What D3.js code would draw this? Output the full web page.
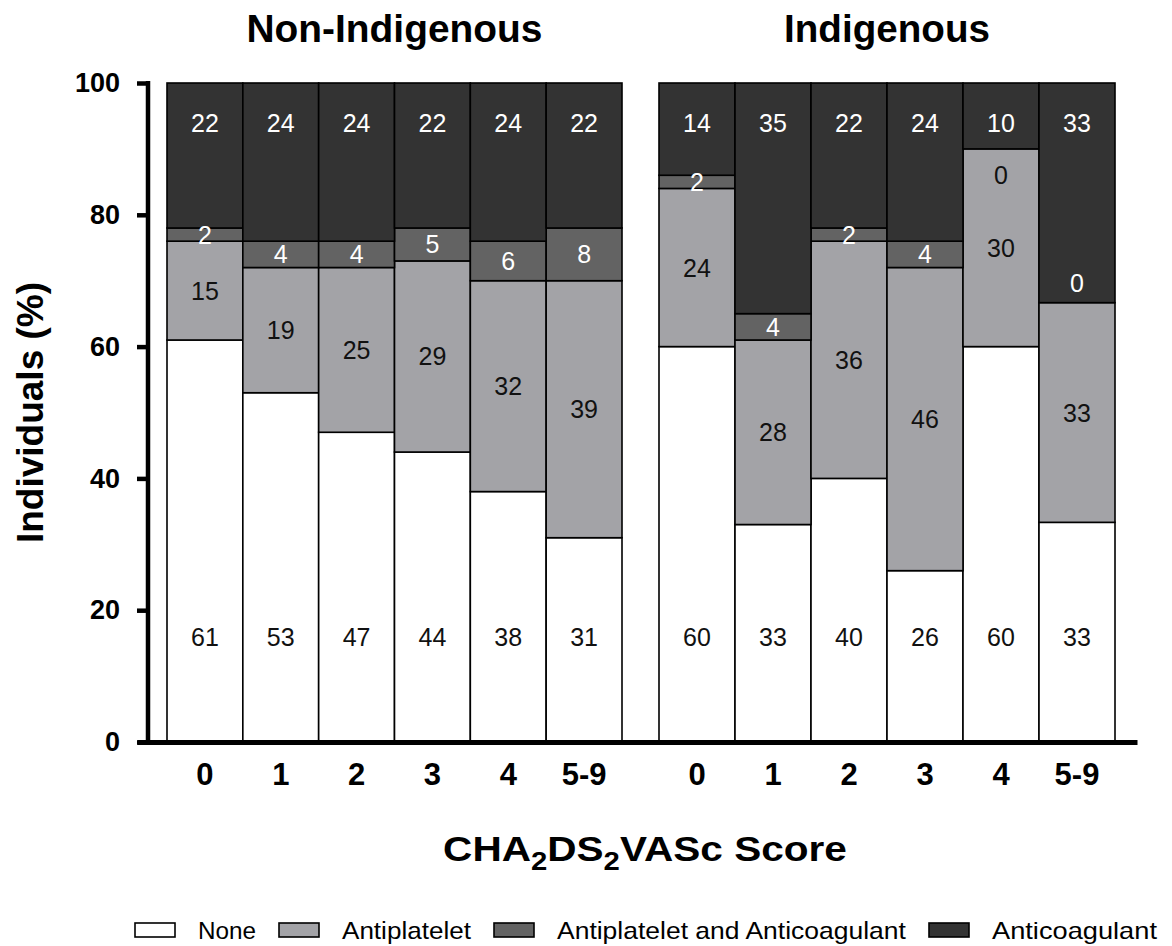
<!DOCTYPE html>
<html><head><meta charset="utf-8">
<script src="https://cdn.jsdelivr.net/npm/d3@7"></script>
<style>
html,body{margin:0;padding:0;background:#fff;}
svg{display:block;font-family:"Liberation Sans",Arial,Helvetica,sans-serif;}
</style></head>
<body>
<svg id="chart" width="1172" height="946"></svg>
<script>
// ---------- data ----------
const panels = ["Non-Indigenous", "Indigenous"];
const scores = ["0", "1", "2", "3", "4", "5-9"];
const seriesNames = ["None", "Antiplatelet", "Antiplatelet and Anticoagulant", "Anticoagulant"];

const nonIndNone        = [61, 53, 47, 44, 38, 31];
const nonIndAntiplatelet= [15, 19, 25, 29, 32, 39];
const nonIndBoth        = [2, 4, 4, 5, 6, 8];
const nonIndAnticoag    = [22, 24, 24, 22, 24, 22];

const indNone           = [60, 33, 40, 26, 60, 33];
const indAntiplatelet   = [24, 28, 36, 46, 30, 33];
const indBoth           = [2, 4, 2, 4, 0, 0];
const indAnticoag       = [14, 35, 22, 24, 10, 33];

const yTicks = [0, 20, 40, 60, 80, 100];
const yTitle = "Individuals (%)";

// ---------- style ----------
const colors = {"None": "#ffffff", "Antiplatelet": "#a3a3a7",
  "Antiplatelet and Anticoagulant": "#636363", "Anticoagulant": "#333333"};
const labelColors = {"None": "#111", "Antiplatelet": "#111",
  "Antiplatelet and Anticoagulant": "#fff", "Anticoagulant": "#fff"};

const svg = d3.select("#chart");
const y = d3.scaleLinear().domain([0, 100]).range([742, 83]);

function fitX(sel, w, cx) {
  const n = sel.node();
  const bw = n.getComputedTextLength();
  const sx = w / bw;
  sel.attr("transform", `translate(${cx},0) scale(${sx},1) translate(${-cx},0)`);
}

const panelData = [
  {name: panels[0], range: [167, 622], vals: [nonIndNone, nonIndAntiplatelet, nonIndBoth, nonIndAnticoag]},
  {name: panels[1], range: [659, 1115], vals: [indNone, indAntiplatelet, indBoth, indAnticoag]}
];
// label shifts for zero-height segments (value units)
const zeroShift = {"Indigenous|4": -4, "Indigenous|5-9": 3};

const stack = d3.stack().keys(seriesNames).offset(d3.stackOffsetExpand);

panelData.forEach(p => {
  const x = d3.scaleBand().domain(scores).range(p.range).padding(0);
  const rows = scores.map((s, i) => {
    const r = {score: s};
    seriesNames.forEach((k, j) => r[k] = p.vals[j][i]);
    return r;
  });
  const layers = stack(rows);
  const g = svg.append("g");
  layers.forEach(layer => {
    const key = layer.key;
    g.selectAll(null).data(layer).join("rect")
      .attr("x", d => x(d.data.score))
      .attr("width", x.bandwidth())
      .attr("y", d => y(d[1] * 100))
      .attr("height", d => y(d[0] * 100) - y(d[1] * 100))
      .attr("fill", colors[key])
      .attr("stroke", "#000")
      .attr("stroke-width", 1.6);
  });
  // labels
  layers.forEach(layer => {
    const key = layer.key;
    layer.forEach(d => {
      const v = d.data[key];
      let yv, col = labelColors[key];
      if (key === "Anticoagulant") yv = 94;
      else if (key === "None") yv = 16;
      else yv = (d[0] + d[1]) * 50;
      if (v === 0) {
        const sh = zeroShift[p.name + "|" + d.data.score] || 0;
        yv = d[1] * 100 + sh;
        col = sh < 0 ? labelColors["Antiplatelet"] : labelColors["Anticoagulant"];
      }
      const cx = x(d.data.score) + x.bandwidth() / 2;
      g.append("text")
        .attr("x", cx).attr("y", y(yv))
        .attr("text-anchor", "middle").attr("dominant-baseline", "central")
        .attr("font-size", 25).attr("fill", col).text(v);
    });
  });
  // x tick labels
  const ax = svg.append("g").attr("transform", `translate(0,${y(0)})`)
    .call(d3.axisBottom(x).tickSize(0).tickPadding(21));
  ax.select(".domain").remove();
  ax.selectAll("text").attr("font-size", 31).attr("font-weight", "bold")
    .attr("fill", "#000").attr("font-family", "'Liberation Sans',Arial,sans-serif");
  // panel title
  const cx = (p.range[0] + p.range[1]) / 2;
  const tt = svg.append("text").attr("x", cx).attr("y", 42)
    .attr("text-anchor", "middle").attr("font-size", 38).attr("font-weight", "bold")
    .text(p.name);
  fitX(tt, p.name === "Non-Indigenous" ? 296 : 206, cx);
});

// y axis
const yAxis = svg.append("g").attr("transform", "translate(148,0)")
  .call(d3.axisLeft(y).tickValues(yTicks).tickSize(11).tickPadding(17).tickSizeOuter(0));
yAxis.select(".domain").attr("stroke", "#000").attr("stroke-width", 4.5)
  .attr("d", `M0,${y(100) - 2}V${y(0) + 2}`);
yAxis.selectAll(".tick line").attr("stroke", "#000").attr("stroke-width", 4.5);
yAxis.selectAll("text").attr("font-size", 27).attr("font-weight", "bold").attr("fill", "#000")
  .attr("font-family", "'Liberation Sans',Arial,sans-serif");

// x axis baseline
const xBase = d3.scaleLinear().domain([0, 1]).range([137, 1137]);
const xAxisG = svg.append("g").attr("transform", `translate(0,${y(0)})`)
  .call(d3.axisBottom(xBase).tickValues([]).tickSizeOuter(0));
xAxisG.select(".domain").attr("stroke", "#000").attr("stroke-width", 5);

// y title
svg.append("text")
  .attr("transform", `translate(43,${(y(0) + y(100)) / 2}) rotate(-90)`)
  .attr("text-anchor", "middle").attr("font-size", 37).attr("font-weight", "bold")
  .text(yTitle);

// x title with subscripts
const xtCx = 645;
const xt = svg.append("text").attr("x", xtCx).attr("y", 861)
  .attr("text-anchor", "middle").attr("font-size", 36).attr("font-weight", "bold");
const xParts = [["CHA", 0], ["2", 9], ["DS", -9], ["2", 9], ["VASc Score", -9]];
xParts.forEach(([s, dy]) => {
  const ts = xt.append("tspan").text(s).attr("dy", dy);
  if (s === "2") ts.attr("font-size", 26);
});
fitX(xt, 404, xtCx);

// legend
const legendTextW = [58, 129, 349, 165];
let lx = 135;
seriesNames.forEach((k, i) => {
  svg.append("rect").attr("x", lx).attr("y", 923).attr("width", 40).attr("height", 14)
    .attr("fill", colors[k]).attr("stroke", "#000").attr("stroke-width", 1.6);
  lx += 40 + 23;
  const t = svg.append("text").attr("x", lx).attr("y", 939).attr("font-size", 24).text(k);
  fitX(t, legendTextW[i], lx);
  lx += legendTextW[i] + 23;
});
</script>
</body></html>
